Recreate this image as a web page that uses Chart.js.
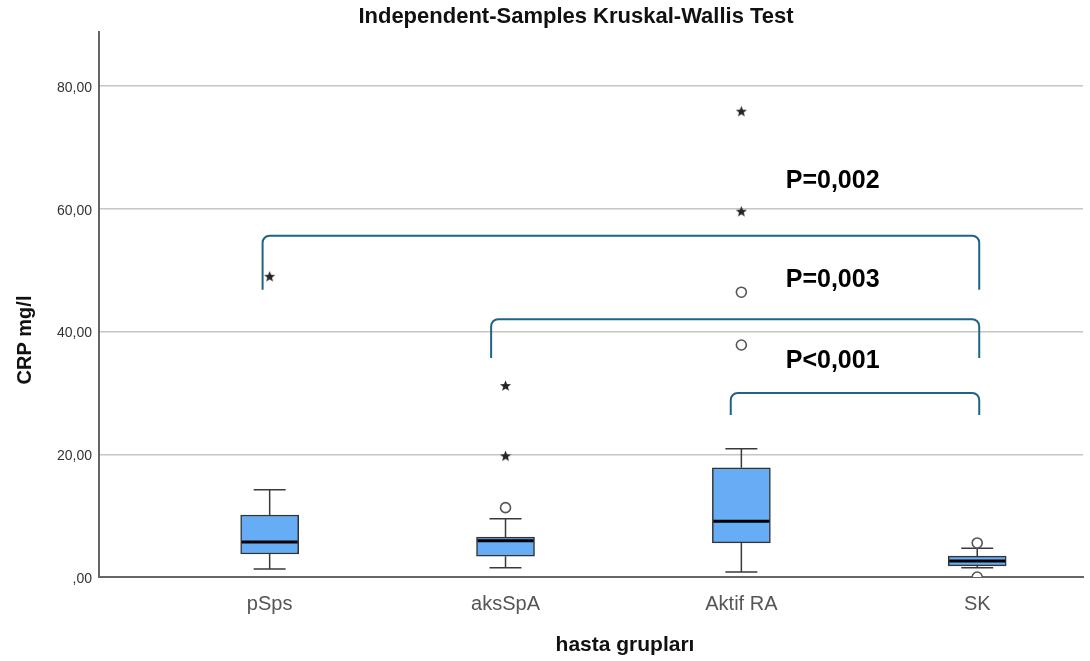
<!DOCTYPE html>
<html>
<head>
<meta charset="utf-8">
<script src="https://cdn.jsdelivr.net/npm/chart.js@4.4.1/dist/chart.umd.min.js"></script>
<style>
html,body{margin:0;padding:0;background:#fff;}
#wrap{width:1090px;height:661px;position:relative;}
</style>
</head>
<body>
<div id="wrap"><canvas id="c"></canvas></div>
<script>
// ---- data ----
const categories = ['pSps', 'aksSpA', 'Aktif RA', 'SK'];
const whiskerMin = [1.3, 1.5, 0.8, 1.5];
const q1 = [3.75, 3.4, 5.55, 1.8];
const median = [5.7, 5.9, 9.1, 2.6];
const q3 = [10.1, 6.5, 17.8, 3.4];
const whiskerMax = [14.2, 9.5, 20.9, 4.7];
// outliers: [group index (1-based), value]
const circleOutliers = [[2, 11.3], [3, 37.8], [3, 46.4], [4, 5.55], [4, 0.0]];
const starOutliers = [[1, 49.0], [2, 19.75], [2, 31.2], [3, 59.6], [3, 75.9]];
const yTickValues = [0, 20, 40, 60, 80];
const yTickLabels = [',00', '20,00', '40,00', '60,00', '80,00'];
// comparison brackets: [x left, x right, y top, y leg end]
const brackets = [[0.97, 4.0085, 55.6, 46.8], [1.939, 4.0085, 42.0, 35.7], [2.955, 4.0085, 30.0, 26.4]];
const pLabels = ['P=0,002', 'P=0,003', 'P<0,001'];
const pLabelX = [3.188, 3.188, 3.188];
const pLabelY = [63.4, 47.25, 34.05];
const titleText = 'Independent-Samples Kruskal-Wallis Test';
const xTitle = 'hasta grupları';
const yTitle = 'CRP mg/l';

// star point image
const starImg = document.createElement('canvas');
starImg.width = 13; starImg.height = 13;
(function(){
  const c = starImg.getContext('2d');
  c.fillStyle = '#262626';
  c.beginPath();
  for (let i = 0; i < 10; i++) {
    const r = i % 2 === 0 ? 5.8 : 2.5;
    const a = -Math.PI / 2 + i * Math.PI / 5;
    const px = 6.5 + r * Math.cos(a), py = 7 + r * Math.sin(a);
    if (i === 0) c.moveTo(px, py); else c.lineTo(px, py);
  }
  c.closePath();
  c.fill();
})();

const boxPlugin = {
  id: 'boxWhiskers',
  afterDatasetDraw(chart, args) {
    if (args.index !== 0) return;
    const ctx = chart.ctx, xs = chart.scales.x, ys = chart.scales.y;
    const halfBox = 29, halfCap = 16;
    ctx.save();
    for (let i = 0; i < categories.length; i++) {
      const x = xs.getPixelForValue(i + 1);
      ctx.strokeStyle = '#3a3a3a';
      ctx.lineWidth = 1.5;
      ctx.beginPath();
      ctx.moveTo(x, ys.getPixelForValue(q3[i]));
      ctx.lineTo(x, ys.getPixelForValue(whiskerMax[i]));
      ctx.moveTo(x, ys.getPixelForValue(q1[i]));
      ctx.lineTo(x, ys.getPixelForValue(whiskerMin[i]));
      ctx.moveTo(x - halfCap, ys.getPixelForValue(whiskerMax[i]));
      ctx.lineTo(x + halfCap, ys.getPixelForValue(whiskerMax[i]));
      ctx.moveTo(x - halfCap, ys.getPixelForValue(whiskerMin[i]));
      ctx.lineTo(x + halfCap, ys.getPixelForValue(whiskerMin[i]));
      ctx.stroke();
      ctx.strokeStyle = '#000';
      ctx.lineWidth = 3;
      ctx.beginPath();
      ctx.moveTo(x - halfBox + 1, ys.getPixelForValue(median[i]));
      ctx.lineTo(x + halfBox - 1, ys.getPixelForValue(median[i]));
      ctx.stroke();
    }
    ctx.restore();
  }
};

const annoPlugin = {
  id: 'annotations',
  afterDraw(chart) {
    const ctx = chart.ctx, xs = chart.scales.x, ys = chart.scales.y;
    ctx.save();
    // brackets
    ctx.strokeStyle = '#1f6385';
    ctx.lineWidth = 2;
    const r = 7;
    brackets.forEach(b => {
      const xl = xs.getPixelForValue(b[0]), xr = xs.getPixelForValue(b[1]);
      const yt = ys.getPixelForValue(b[2]), yl = ys.getPixelForValue(b[3]);
      ctx.beginPath();
      ctx.moveTo(xl, yl);
      ctx.lineTo(xl, yt + r);
      ctx.arcTo(xl, yt, xl + r, yt, r);
      ctx.lineTo(xr - r, yt);
      ctx.arcTo(xr, yt, xr, yt + r, r);
      ctx.lineTo(xr, yl);
      ctx.stroke();
    });
    // p labels
    ctx.fillStyle = '#000';
    ctx.font = 'bold 25px "Liberation Sans", Arial, sans-serif';
    ctx.textAlign = 'left';
    ctx.textBaseline = 'alphabetic';
    pLabels.forEach((t, i) => {
      ctx.fillText(t, xs.getPixelForValue(pLabelX[i]), ys.getPixelForValue(pLabelY[i]));
    });
    // titles
    ctx.fillStyle = '#111';
    ctx.textAlign = 'center';
    ctx.font = 'bold 22px "Liberation Sans", Arial, sans-serif';
    ctx.fillText(titleText, 576, 23);
    ctx.font = 'bold 21px "Liberation Sans", Arial, sans-serif';
    ctx.fillText(xTitle, 625, 651);
    ctx.save();
    ctx.translate(31, 340);
    ctx.rotate(-Math.PI / 2);
    ctx.font = 'bold 20px "Liberation Sans", Arial, sans-serif';
    ctx.fillText(yTitle, 0, 0);
    ctx.restore();
    ctx.restore();
  }
};

new Chart(document.getElementById('c'), {
  type: 'scatter',
  data: {
    datasets: [
      {
        type: 'bar',
        data: categories.map((c, i) => ({ x: i + 1, y: [q1[i], q3[i]] })),
        backgroundColor: '#66adf5',
        borderColor: '#333',
        borderWidth: 1.5,
        borderSkipped: false,
        barThickness: 58,
        order: 3
      },
      {
        type: 'scatter',
        data: circleOutliers.map(o => ({ x: o[0], y: o[1] })),
        pointStyle: 'circle',
        radius: 5,
        borderColor: '#555',
        backgroundColor: '#fff',
        borderWidth: 1.6,
        order: 2
      },
      {
        type: 'scatter',
        data: starOutliers.map(o => ({ x: o[0], y: o[1] })),
        pointStyle: starImg,
        radius: 6,
        order: 1
      }
    ]
  },
  options: {
    responsive: true,
    maintainAspectRatio: false,
    animation: false,
    layout: { padding: { top: 32, right: 5, left: 0, bottom: 0 } },
    plugins: { legend: { display: false }, tooltip: { enabled: false }, title: { display: false } },
    scales: {
      x: {
        type: 'linear',
        min: 0.2764,
        max: 4.4485,
        offset: false,
        afterBuildTicks(s) { s.ticks = categories.map((c, i) => ({ value: i + 1 })); },
        afterFit(s) { s.height = 84; },
        grid: { display: false },
        border: { display: true, color: '#666', width: 2 },
        ticks: {
          callback: (v) => categories[Math.round(v) - 1] || '',
          font: { family: '"Liberation Sans", Arial, sans-serif', size: 20 },
          color: '#555',
          padding: 7,
          maxRotation: 0,
          autoSkip: false
        }
      },
      y: {
        type: 'linear',
        min: 0,
        max: 88.8,
        afterBuildTicks(s) { s.ticks = yTickValues.map(v => ({ value: v })); },
        afterFit(s) { s.width = 99; },
        grid: {
          color: (ctx) => (ctx.tick && ctx.tick.value === 0) ? 'rgba(0,0,0,0)' : '#c6c6c6',
          lineWidth: 1.5,
          drawTicks: false
        },
        border: { display: true, color: '#666', width: 2 },
        ticks: {
          callback: (v) => yTickLabels[yTickValues.indexOf(v)],
          font: { family: '"Liberation Sans", Arial, sans-serif', size: 14 },
          color: '#333',
          padding: 7,
          labelOffset: 2
        }
      }
    }
  },
  plugins: [boxPlugin, annoPlugin]
});
</script>
</body>
</html>
